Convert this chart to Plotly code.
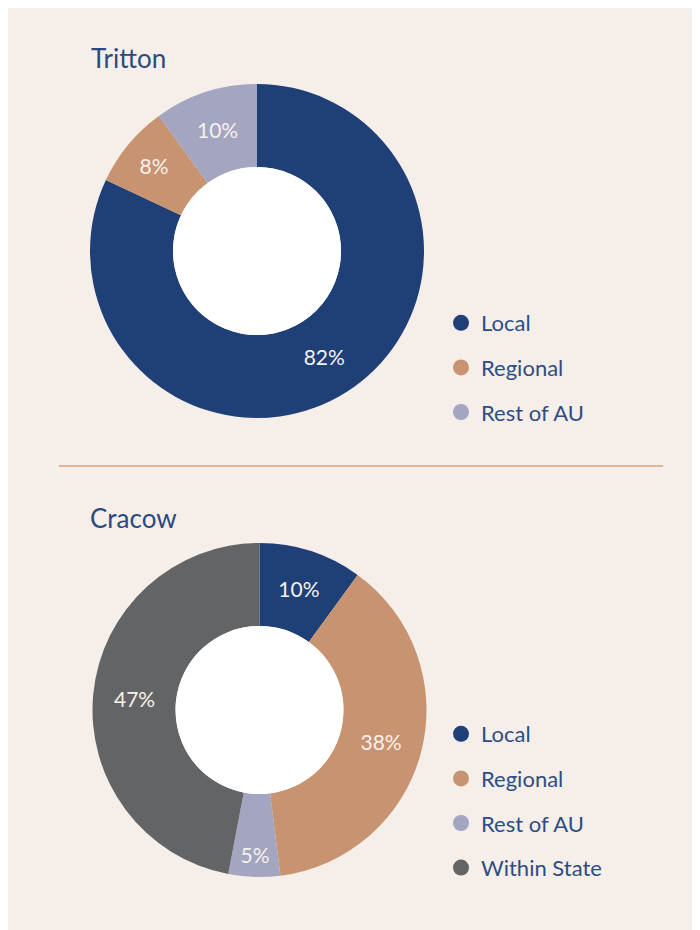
import plotly.graph_objects as go

# ---- data ----
categories_tritton = ["Local", "Regional", "Rest of AU"]
values_tritton = [82, 8, 10]
categories_cracow = ["Local", "Regional", "Rest of AU", "Within State"]
values_cracow = [10, 38, 5, 47]
titles = ["Tritton", "Cracow"]

# ---- style ----
W, H = 700, 930
OFF = 8  # page body margin offset
BG = "#F5EEE9"
TITLE_C = "#2B4A80"
COLORS = {"Local": "#1F3F77", "Regional": "#C89370",
          "Rest of AU": "#A3A5C1", "Within State": "#636466"}
FONT = "Lato"
HOLE = 0.503

def px(x):
    return (x - OFF) / W

def py(y):
    return (H - (y - OFF)) / H

def dom(cx, cy, r):
    return dict(x=[px(cx - r), px(cx + r)], y=[py(cy + r), py(cy - r)])

d1 = dom(257, 251, 167)
d2 = dom(259.5, 710, 167)

fig = go.Figure()
for cats, vals, d in [(categories_tritton, values_tritton, d1),
                      (categories_cracow, values_cracow, d2)]:
    fig.add_trace(go.Pie(
        labels=cats, values=vals, domain=d, hole=HOLE, sort=False,
        direction="clockwise", rotation=0,
        marker=dict(colors=[COLORS[c] for c in cats], line=dict(width=0)),
        texttemplate="%{value}%", textposition="inside",
        insidetextorientation="horizontal",
        textfont=dict(family=FONT, size=21, color="#F7F1EC"),
        showlegend=False, hoverinfo="label+percent",
    ))

# legend entries as circle markers
for c in categories_tritton:
    fig.add_trace(go.Scatter(x=[None], y=[None], mode="markers", name=c,
                             marker=dict(size=16, color=COLORS[c]),
                             legend="legend", legendgroup="t" + c))
for c in categories_cracow:
    fig.add_trace(go.Scatter(x=[None], y=[None], mode="markers", name=c,
                             marker=dict(size=16, color=COLORS[c]),
                             legend="legend2", legendgroup="c" + c))

# white hole circles
shapes = []
for d in (d1, d2):
    cx = (d["x"][0] + d["x"][1]) / 2
    cy = (d["y"][0] + d["y"][1]) / 2
    rx = (d["x"][1] - d["x"][0]) / 2 * HOLE
    ry = (d["y"][1] - d["y"][0]) / 2 * HOLE
    shapes.append(dict(type="circle", xref="paper", yref="paper",
                       x0=cx - rx, x1=cx + rx, y0=cy - ry, y1=cy + ry,
                       fillcolor="white", line=dict(width=0), layer="above"))
# divider
shapes.append(dict(type="line", xref="paper", yref="paper",
                   x0=px(59), x1=px(663), y0=py(466), y1=py(466),
                   line=dict(color="#D9A27F", width=1.5)))

annotations = [
    dict(text=titles[0], xref="paper", yref="paper", x=px(89), y=py(58),
         xanchor="left", yanchor="middle", showarrow=False,
         font=dict(family=FONT, size=26, color=TITLE_C)),
    dict(text=titles[1], xref="paper", yref="paper", x=px(88), y=py(518),
         xanchor="left", yanchor="middle", showarrow=False,
         font=dict(family=FONT, size=26, color=TITLE_C)),
]

leg_common = dict(bgcolor="rgba(0,0,0,0)", xanchor="left", yanchor="top",
                  font=dict(family=FONT, size=22, color="#2E4D84"),
                  tracegroupgap=13, itemsizing="trace", itemwidth=30)

fig.update_layout(
    width=W, height=H, margin=dict(l=0, r=0, t=0, b=0),
    paper_bgcolor=BG, plot_bgcolor=BG,
    xaxis=dict(visible=False), yaxis=dict(visible=False),
    shapes=shapes, annotations=annotations,
    legend=dict(x=px(441), y=py(302), **leg_common),
    legend2=dict(x=px(441), y=py(713), **leg_common),
)

fig.write_html("out.html")
